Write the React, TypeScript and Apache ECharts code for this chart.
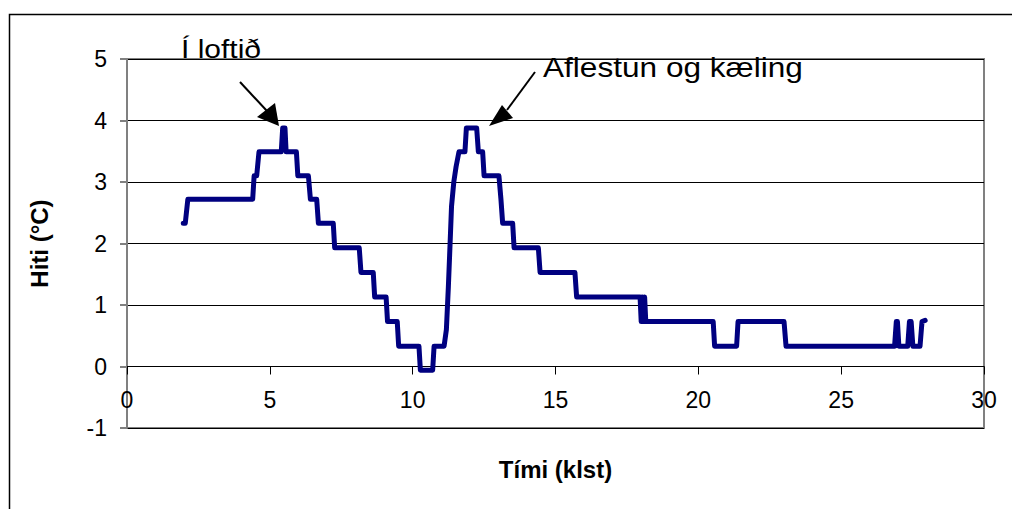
import React, { useEffect, useRef } from "react";
import * as echarts from "echarts";

const timeHours = [1.97, 2.04, 2.13, 4.40, 4.45, 4.54, 4.62, 5.40, 5.45, 5.53, 5.57, 5.93, 5.98, 6.35, 6.42, 6.64, 6.70, 7.22, 7.27, 8.13, 8.19, 8.62, 8.67, 9.07, 9.12, 9.46, 9.51, 10.22, 10.27, 10.70, 10.75, 11.10, 11.18, 11.25, 11.31, 11.36, 11.44, 11.52, 11.62, 11.83, 11.88, 12.24, 12.30, 12.45, 12.50, 13.02, 13.09, 13.15, 13.50, 13.55, 14.40, 14.46, 15.68, 15.74, 17.96, 18.00, 18.04, 18.08, 18.12, 18.16, 20.52, 20.57, 21.34, 21.39, 23.00, 23.07, 26.87, 26.93, 26.97, 27.02, 27.33, 27.39, 27.45, 27.51, 27.76, 27.83, 27.94];
const tempC = [2.33, 2.33, 2.72, 2.72, 3.10, 3.10, 3.49, 3.49, 3.88, 3.88, 3.49, 3.49, 3.10, 3.10, 2.72, 2.72, 2.33, 2.33, 1.93, 1.93, 1.53, 1.53, 1.13, 1.13, 0.73, 0.73, 0.33, 0.33, -0.06, -0.06, 0.33, 0.33, 0.60, 1.30, 2.00, 2.60, 3.00, 3.25, 3.49, 3.49, 3.88, 3.88, 3.49, 3.49, 3.10, 3.10, 2.72, 2.33, 2.33, 1.93, 1.93, 1.53, 1.53, 1.13, 1.13, 0.73, 1.13, 0.73, 1.13, 0.73, 0.73, 0.33, 0.33, 0.73, 0.73, 0.33, 0.33, 0.73, 0.73, 0.33, 0.33, 0.73, 0.73, 0.33, 0.33, 0.73, 0.75];

const xTitle = "Tími (klst)";
const yTitle = "Hiti (°C)";
const note1 = "Í loftið";
const note2 = "Aflestun og kæling";

const FONT = "'Liberation Sans', Arial, sans-serif";

export default function App() {
  const ref = useRef<HTMLDivElement>(null);
  useEffect(() => {
    if (!ref.current) return;
    const chart = echarts.init(ref.current, null, { renderer: "svg" });
    const data = timeHours.map((t, i) => [t, tempC[i]]);
    chart.setOption({
      animation: false,
      backgroundColor: "#fff",
      grid: {
        left: 127,
        right: 28,
        top: 59,
        bottom: 81,
        outerBoundsMode: "none",
        containLabel: false,
        show: true,
        borderColor: "#808080",
        borderWidth: 2,
        backgroundColor: "transparent",
      },
      xAxis: {
        type: "value",
        min: 0,
        max: 30,
        interval: 5,
        offset: -61.5,
        axisLine: { onZero: false, lineStyle: { color: "#000", width: 1 } },
        axisTick: { show: true, inside: false, length: 8, lineStyle: { color: "#000" } },
        axisLabel: { fontSize: 23, color: "#000", fontFamily: FONT, margin: 22 },
        splitLine: { show: false },
        name: xTitle,
        nameLocation: "middle",
        nameGap: 91,
        nameTextStyle: { fontSize: 24, fontWeight: "bold", color: "#000", fontFamily: FONT },
      },
      yAxis: {
        type: "value",
        min: -1,
        max: 5,
        interval: 1,
        axisLine: { show: true, lineStyle: { color: "#808080", width: 2 } },
        axisTick: { show: true, inside: false, length: 7, lineStyle: { color: "#808080", width: 2 } },
        axisLabel: { fontSize: 23, color: "#000", fontFamily: FONT, margin: 20 },
        splitLine: { show: true, lineStyle: { color: "#000", width: 1 } },
        name: yTitle,
        nameLocation: "middle",
        nameGap: 76,
        nameRotate: 90,
        nameTextStyle: { fontSize: 24, fontWeight: "bold", color: "#000", fontFamily: FONT },
      },
      series: [
        {
          type: "line",
          data,
          showSymbol: false,
          symbol: "none",
          lineStyle: { color: "#000080", width: 5, cap: "round", join: "round" },
          z: 5,
        },
      ],
      graphic: [
        {
          type: "rect",
          shape: { x: 9.5, y: 14.5, width: 1100, height: 600 },
          style: { fill: "none", stroke: "#000", lineWidth: 1.5 },
          silent: true,
          z: 0,
        },
        {
          type: "text",
          x: 181,
          y: 49,
          scaleX: 1.2,
          style: { text: note1, font: `25px ${FONT}`, fill: "#000", align: "left", verticalAlign: "middle" },
          z: 10,
        },
        {
          type: "text",
          x: 543,
          y: 67,
          scaleX: 1.17,
          style: { text: note2, font: `27px ${FONT}`, fill: "#000", align: "left", verticalAlign: "middle" },
          z: 10,
        },
        {
          type: "line",
          shape: { x1: 240, y1: 82, x2: 267, y2: 111 },
          style: { stroke: "#000", lineWidth: 2 },
          z: 10,
        },
        {
          type: "polygon",
          shape: { points: [[279, 126], [257, 117], [275, 103]] },
          style: { fill: "#000" },
          z: 10,
        },
        {
          type: "line",
          shape: { x1: 535, y1: 72, x2: 507, y2: 110 },
          style: { stroke: "#000", lineWidth: 2 },
          z: 10,
        },
        {
          type: "polygon",
          shape: { points: [[489, 126], [502, 105], [513, 118]] },
          style: { fill: "#000" },
          z: 10,
        },
      ],
    });
    return () => chart.dispose();
  }, []);
  return (
    <div
      ref={ref}
      style={{ position: "fixed", left: 0, top: 0, width: 1012, height: 509, background: "#fff" }}
    />
  );
}
